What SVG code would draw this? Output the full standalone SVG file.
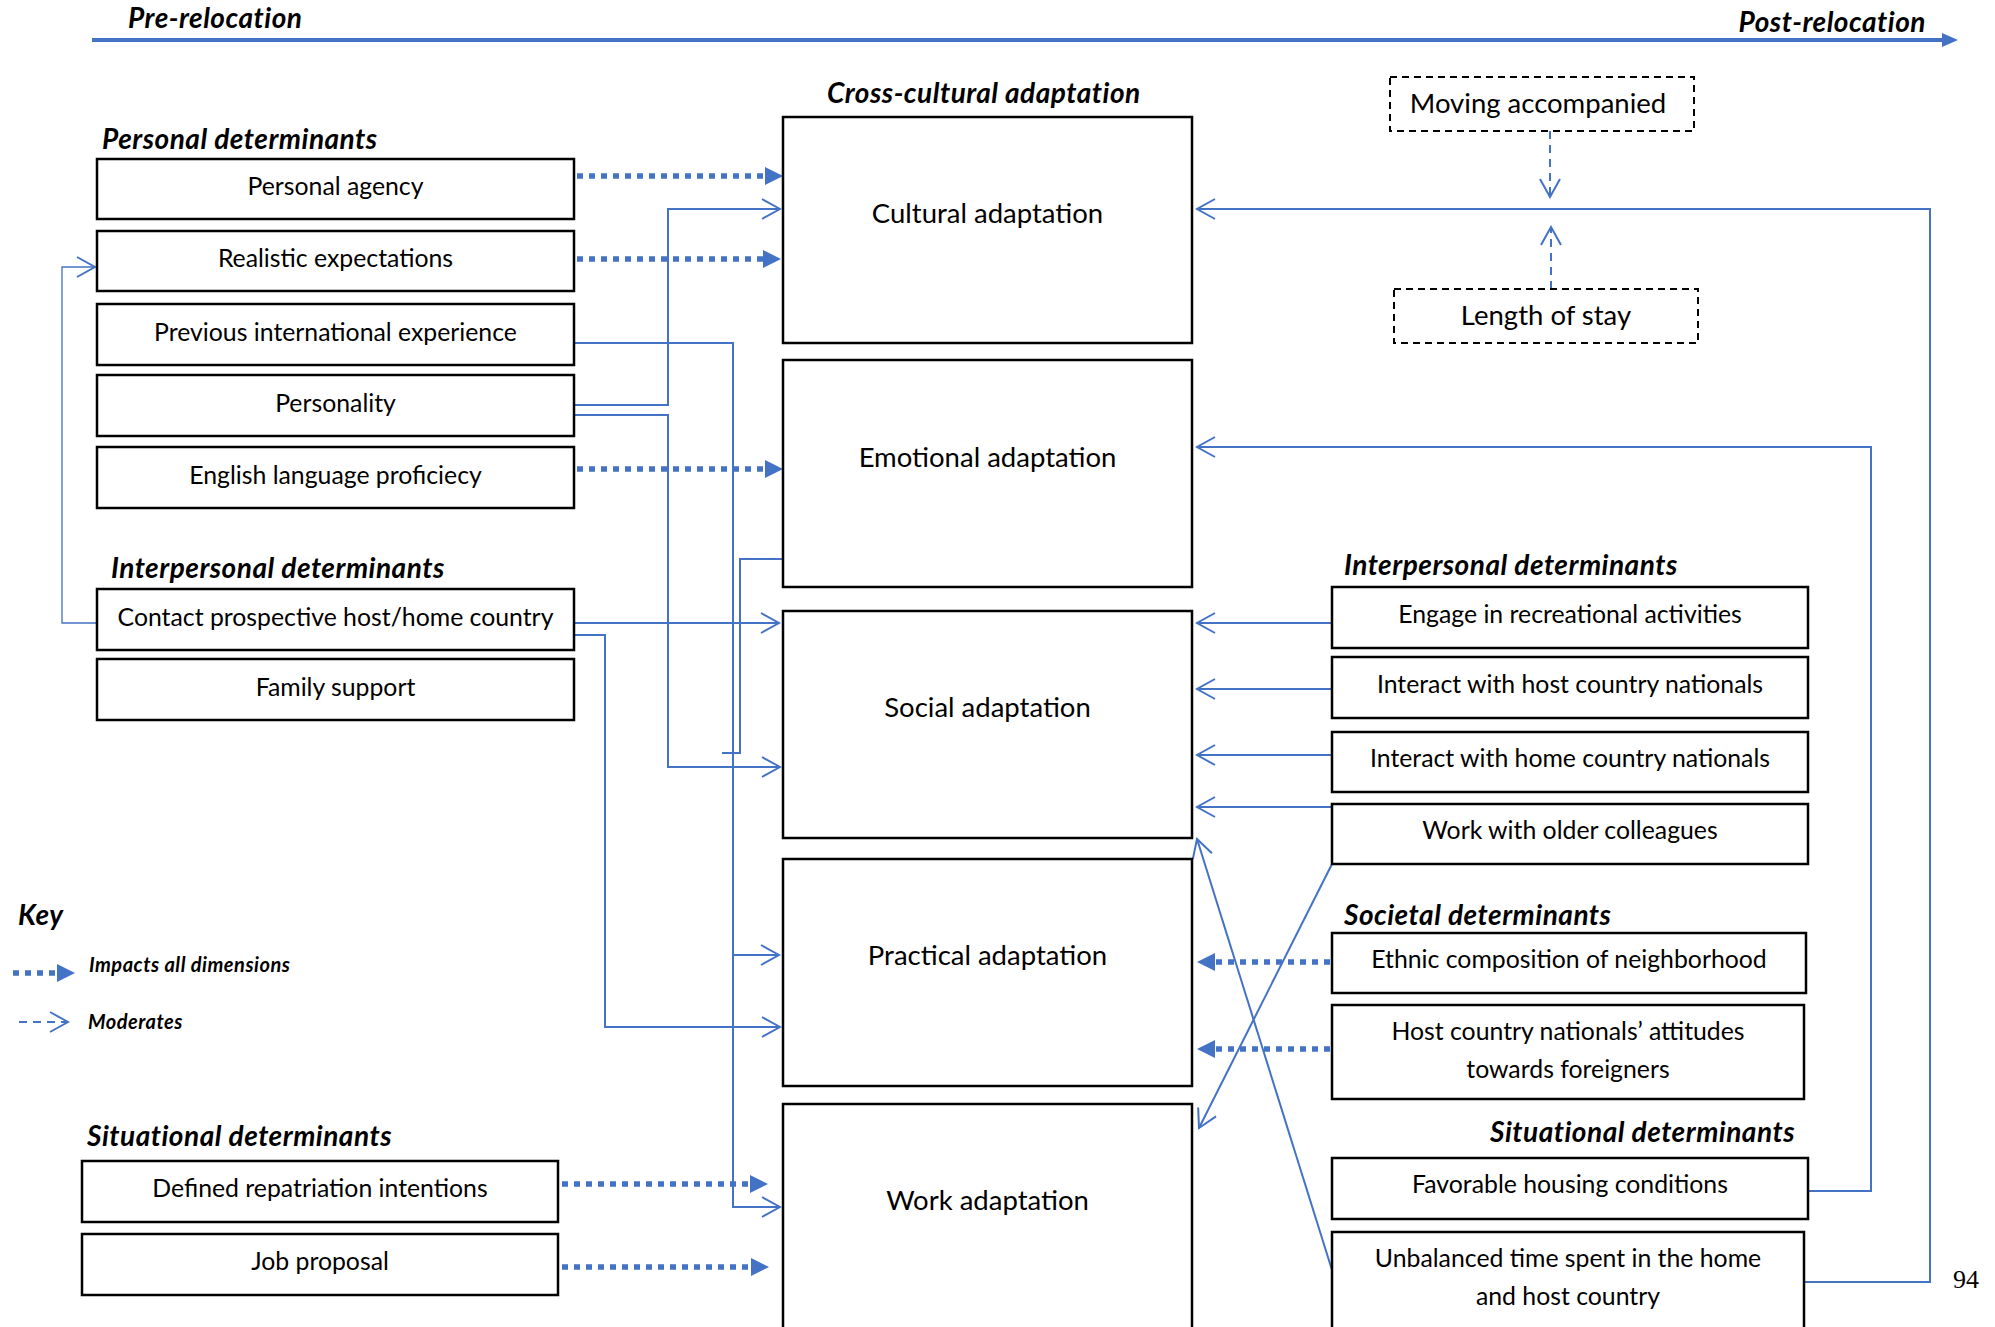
<svg xmlns="http://www.w3.org/2000/svg" width="1995" height="1327" viewBox="0 0 1995 1327">
<style>
.box{fill:#fff;stroke:#000;stroke-width:2.5}
.dbox{fill:#fff;stroke:#000;stroke-width:2;stroke-dasharray:7 5}
.lbl{font-family:Lato,"Open Sans",sans-serif;font-size:24.8px;fill:#000;text-anchor:middle}
.big{font-family:Lato,"Open Sans",sans-serif;font-size:27.5px;fill:#000;text-anchor:middle}
.hdr{font-family:Lato,"Open Sans",sans-serif;font-size:28px;font-weight:bold;font-style:italic;letter-spacing:0.5px;fill:#000}
.key{font-family:Lato,"Open Sans",sans-serif;font-size:20px;font-weight:bold;font-style:italic;letter-spacing:0.5px;fill:#000}
.ln{fill:none;stroke:#4472C4;stroke-width:2}
.thin{fill:none;stroke:#4472C4;stroke-width:1.3}
.dot{fill:none;stroke:#4472C4;stroke-width:5.5;stroke-dasharray:6 6}
.dash{fill:none;stroke:#4472C4;stroke-width:2;stroke-dasharray:8 6}
</style>
<defs>
<marker id="tri" markerUnits="userSpaceOnUse" viewBox="0 -10 20 20" refX="0" refY="0" markerWidth="20" markerHeight="20" orient="auto"><path d="M0,-9 L18,0 L0,9 z" fill="#4472C4"/></marker>
<marker id="bigtri" markerUnits="userSpaceOnUse" viewBox="0 -10 20 20" refX="0" refY="0" markerWidth="20" markerHeight="20" orient="auto"><path d="M0,-7 L16,0 L0,7 z" fill="#4472C4"/></marker>
<marker id="chev" markerUnits="userSpaceOnUse" viewBox="-20 -12 22 24" refX="0" refY="0" markerWidth="22" markerHeight="24" orient="auto"><path d="M-18,-10 L0,0 L-18,10" fill="none" stroke="#4472C4" stroke-width="2"/></marker>
</defs>
<rect width="1995" height="1327" fill="#fff"/>

<g id="timeline">
<line x1="92" y1="40" x2="1942" y2="40" stroke="#4472C4" stroke-width="4" marker-end="url(#bigtri)"/>
<text class="hdr" x="128" y="28">Pre-relocation</text>
<text class="hdr" x="1926" y="32" text-anchor="end">Post-relocation</text>
</g>

<g id="headers">
<text class="hdr" x="102" y="149">Personal determinants</text>
<text class="hdr" x="111" y="578">Interpersonal determinants</text>
<text class="hdr" x="87" y="1146">Situational determinants</text>
<text class="hdr" x="827" y="103">Cross-cultural adaptation</text>
<text class="hdr" x="1344" y="575">Interpersonal determinants</text>
<text class="hdr" x="1344" y="925">Societal determinants</text>
<text class="hdr" x="1795" y="1142" text-anchor="end">Situational determinants</text>
</g>

<g id="connectors">
<line class="dot" x1="577" y1="176" x2="765" y2="176" marker-end="url(#tri)"/>
<line class="dot" x1="577" y1="259" x2="763" y2="259" marker-end="url(#tri)"/>
<line class="dot" x1="577" y1="469" x2="765" y2="469" marker-end="url(#tri)"/>
<line class="dot" x1="562" y1="1184" x2="750" y2="1184" marker-end="url(#tri)"/>
<line class="dot" x1="562" y1="1267" x2="751" y2="1267" marker-end="url(#tri)"/>
<line class="dot" x1="1330" y1="962" x2="1215" y2="962" marker-end="url(#tri)"/>
<line class="dot" x1="1330" y1="1049" x2="1215" y2="1049" marker-end="url(#tri)"/>
<path class="ln" d="M574,405 H668 V209 H780" marker-end="url(#chev)"/>
<path class="ln" d="M574,415 H668 V767 H780" marker-end="url(#chev)"/>
<path class="ln" d="M574,343 H733 V1207 H780" marker-end="url(#chev)"/>
<path class="ln" d="M733,955 H779" marker-end="url(#chev)"/>
<path class="ln" d="M574,623 H779" marker-end="url(#chev)"/>
<path class="ln" d="M574,635 H605 V1027 H780" marker-end="url(#chev)"/>
<path class="thin" d="M97,623 H62 V267 H95" marker-end="url(#chev)"/>
<path class="ln" d="M783,559 H740 V753 H722"/>
<path class="ln" d="M1332,623 H1197" marker-end="url(#chev)"/>
<path class="ln" d="M1332,689 H1197" marker-end="url(#chev)"/>
<path class="ln" d="M1332,755 H1197" marker-end="url(#chev)"/>
<path class="ln" d="M1332,807 H1197" marker-end="url(#chev)"/>
<path class="ln" d="M1332,1270 L1197,839" marker-end="url(#chev)"/>
<path class="ln" d="M1332,864 L1199,1128" marker-end="url(#chev)"/>
<path class="ln" d="M1808,1191 H1871 V447 H1197" marker-end="url(#chev)"/>
<path class="ln" d="M1804,1282 H1930 V209 H1197" marker-end="url(#chev)"/>
<path class="dash" d="M1550,131 V197" marker-end="url(#chev)"/>
<path class="dash" d="M1551,289 V227" marker-end="url(#chev)"/>
</g>

<g id="personal-agency"><rect class="box" x="97" y="159" width="477" height="60"/><text class="lbl" x="335.5" y="195">Personal agency</text></g>
<g id="realistic-expectations"><rect class="box" x="97" y="231" width="477" height="60"/><text class="lbl" x="335.5" y="267">Realistic expectations</text></g>
<g id="previous-experience"><rect class="box" x="97" y="304" width="477" height="61"/><text class="lbl" x="335.5" y="341">Previous international experience</text></g>
<g id="personality"><rect class="box" x="97" y="375" width="477" height="61"/><text class="lbl" x="335.5" y="412">Personality</text></g>
<g id="english"><rect class="box" x="97" y="447" width="477" height="61"/><text class="lbl" x="335.5" y="484">English language proficiecy</text></g>
<g id="contact"><rect class="box" x="97" y="589" width="477" height="61"/><text class="lbl" x="335.5" y="626">Contact prospective host/home country</text></g>
<g id="family"><rect class="box" x="97" y="659" width="477" height="61"/><text class="lbl" x="335.5" y="696">Family support</text></g>
<g id="repatriation"><rect class="box" x="82" y="1161" width="476" height="61"/><text class="lbl" x="320" y="1197">Defined repatriation intentions</text></g>
<g id="job"><rect class="box" x="82" y="1234" width="476" height="61"/><text class="lbl" x="320" y="1270">Job proposal</text></g>

<g id="cultural"><rect class="box" x="783" y="117" width="409" height="226"/><text class="big" x="987.5" y="223">Cultural adaptation</text></g>
<g id="emotional"><rect class="box" x="783" y="360" width="409" height="227"/><text class="big" x="987.5" y="467">Emotional adaptation</text></g>
<g id="social"><rect class="box" x="783" y="611" width="409" height="227"/><text class="big" x="987.5" y="717">Social adaptation</text></g>
<g id="practical"><rect class="box" x="783" y="859" width="409" height="227"/><text class="big" x="987.5" y="965">Practical adaptation</text></g>
<g id="work"><rect class="box" x="783" y="1104" width="409" height="240"/><text class="big" x="987.5" y="1210">Work adaptation</text></g>

<g id="moving"><rect class="dbox" x="1390" y="77" width="304" height="54"/><text class="big" x="1538" y="113">Moving accompanied</text></g>
<g id="length"><rect class="dbox" x="1394" y="289" width="304" height="54"/><text class="big" x="1546" y="325">Length of stay</text></g>

<g id="engage"><rect class="box" x="1332" y="587" width="476" height="61"/><text class="lbl" x="1570" y="623">Engage in recreational activities</text></g>
<g id="interact-host"><rect class="box" x="1332" y="657" width="476" height="61"/><text class="lbl" x="1570" y="693">Interact with host country nationals</text></g>
<g id="interact-home"><rect class="box" x="1332" y="732" width="476" height="60"/><text class="lbl" x="1570" y="767">Interact with home country nationals</text></g>
<g id="older"><rect class="box" x="1332" y="804" width="476" height="60"/><text class="lbl" x="1570" y="839">Work with older colleagues</text></g>
<g id="ethnic"><rect class="box" x="1332" y="933" width="474" height="60"/><text class="lbl" x="1569" y="968">Ethnic composition of neighborhood</text></g>
<g id="attitudes"><rect class="box" x="1332" y="1005" width="472" height="94"/><text class="lbl" x="1568" y="1040">Host country nationals’ attitudes</text><text class="lbl" x="1568" y="1078">towards foreigners</text></g>
<g id="housing"><rect class="box" x="1332" y="1158" width="476" height="61"/><text class="lbl" x="1570" y="1193">Favorable housing conditions</text></g>
<g id="unbalanced"><rect class="box" x="1332" y="1232" width="472" height="110"/><text class="lbl" x="1568" y="1267">Unbalanced time spent in the home</text><text class="lbl" x="1568" y="1305">and host country</text></g>

<g id="legend">
<text class="hdr" x="18" y="925">Key</text>
<line class="dot" x1="13" y1="973" x2="57" y2="973" marker-end="url(#tri)"/>
<text class="key" x="89" y="972">Impacts all dimensions</text>
<path class="dash" d="M19,1022 H68" marker-end="url(#chev)"/>
<text class="key" x="88" y="1029">Moderates</text>
</g>

<text x="1953" y="1288" font-family="'Liberation Serif',serif" font-size="26" fill="#000">94</text>
</svg>
